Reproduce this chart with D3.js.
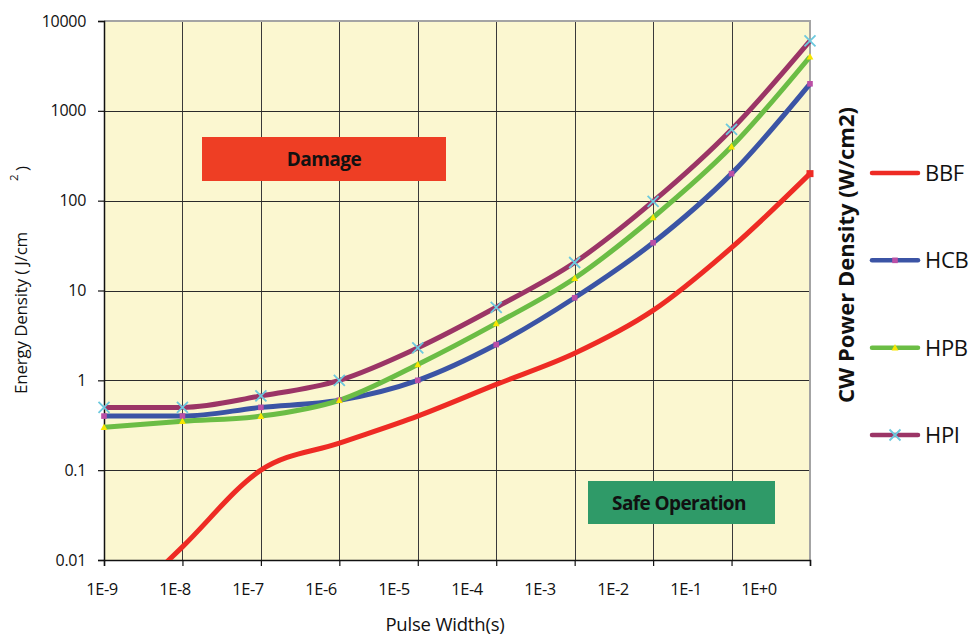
<!DOCTYPE html>
<html>
<head>
<meta charset="utf-8">
<script src="https://cdn.jsdelivr.net/npm/d3@7"></script>
<style>
  html, body { margin: 0; padding: 0; background: #ffffff; }
  svg { display: block; }
  text { font-family: "Open Sans", "Liberation Sans", sans-serif; fill: #111; }
</style>
</head>
<body>
<svg id="chart" width="978" height="638"></svg>
<script>
// ---------- data ----------
const pulseWidths = [1e-9, 1e-8, 1e-7, 1e-6, 1e-5, 1e-4, 1e-3, 1e-2, 1e-1, 1e0];
const xTickLabels = ["1E-9", "1E-8", "1E-7", "1E-6", "1E-5", "1E-4", "1E-3", "1E-2", "1E-1", "1E+0"];
const yTickValues = [0.01, 0.1, 1, 10, 100, 1000, 10000];
const yTickLabels = ["0.01", "0.1", "1", "10", "100", "1000", "10000"];

const seriesNames = ["BBF", "HCB", "HPB", "HPI"];
const bbfValues = [0.002, 0.014, 0.1, 0.2, 0.4, 0.9, 2, 6, 30, 200];
const hcbValues = [0.4, 0.4, 0.5, 0.6, 1.0, 2.5, 8.3, 34, 200, 2000];
const hpbValues = [0.3, 0.35, 0.4, 0.6, 1.5, 4.3, 13.7, 65, 400, 4000];
const hpiValues = [0.5, 0.5, 0.67, 1.0, 2.3, 6.5, 20.5, 98, 620, 6000];

const regionLabels = ["Damage", "Safe Operation"];

// ---------- styles ----------
const styles = {
  BBF: { color: "#ee2b24", marker: "none" },
  HCB: { color: "#3b54a5", marker: "square", mcolor: "#bb4fa6" },
  HPB: { color: "#6bbd45", marker: "triangle", mcolor: "#f7e600" },
  HPI: { color: "#9b3566", marker: "x", mcolor: "#6cc9de" }
};
const seriesValues = { BBF: bbfValues, HCB: hcbValues, HPB: hpbValues, HPI: hpiValues };

const svg = d3.select("#chart");
const plot = { left: 104, right: 810, top: 21, bottom: 560 };

const x = d3.scaleLog().domain([1e-9, 1e0]).range([plot.left, plot.right]);
const y = d3.scaleLog().domain([0.01, 10000]).range([plot.bottom, plot.top]);
// labels in the reference are spaced independently of the ticks
const xLabelPos = d3.scalePoint().domain(xTickLabels).range([102, 759]);

// plot background
svg.append("rect")
  .attr("x", plot.left).attr("y", plot.top)
  .attr("width", plot.right - plot.left).attr("height", plot.bottom - plot.top)
  .attr("fill", "#fbf7d0");

// gridlines
svg.append("g").selectAll("line.v").data(pulseWidths.slice(1, -1)).join("line")
  .attr("x1", d => Math.round(x(d)) + 0.5).attr("x2", d => Math.round(x(d)) + 0.5)
  .attr("y1", plot.top).attr("y2", plot.bottom)
  .attr("stroke", "#3a3a3a").attr("stroke-width", 1);
svg.append("g").selectAll("line.h").data(yTickValues.slice(1, -1)).join("line")
  .attr("y1", d => Math.round(y(d)) + 0.5).attr("y2", d => Math.round(y(d)) + 0.5)
  .attr("x1", plot.left).attr("x2", plot.right)
  .attr("stroke", "#2a2a2a").attr("stroke-width", 1);

// frame (top/right gray)
svg.append("path")
  .attr("d", `M${plot.left},${plot.top}H${plot.right}V${plot.bottom}`)
  .attr("fill", "none").attr("stroke", "#a4a4a4").attr("stroke-width", 2);

// y axis
const yAxis = d3.axisLeft(y).tickValues(yTickValues)
  .tickFormat((d, i) => yTickLabels[i]).tickSize(6).tickPadding(12);
const gy = svg.append("g").attr("transform", `translate(${plot.left},0)`).call(yAxis);
gy.select(".domain").attr("stroke", "#111").attr("stroke-width", 1.5);
gy.selectAll(".tick line").attr("stroke", "#111").attr("stroke-width", 1.2);
gy.selectAll(".tick text").style("font-size", "16px").attr("fill", "#111")
  .style("font-family", "'Open Sans', sans-serif").attr("letter-spacing", "-0.3px");

// x axis (ticks at decades, labels from their own point scale)
const xAxis = d3.axisBottom(x).tickValues(pulseWidths).tickFormat("").tickSize(6);
const gx = svg.append("g").attr("transform", `translate(0,${plot.bottom})`).call(xAxis);
gx.select(".domain").attr("stroke", "#111").attr("stroke-width", 1.5);
gx.selectAll(".tick line").attr("stroke", "#111").attr("stroke-width", 1.2);
svg.append("g").selectAll("text").data(xTickLabels).join("text")
  .attr("x", d => xLabelPos(d)).attr("y", 595)
  .attr("text-anchor", "middle")
  .style("font-size", "16.5px").attr("letter-spacing", "-0.5px")
  .text(d => d);

// axis titles
svg.append("text").attr("x", 445).attr("y", 631).attr("text-anchor", "middle")
  .style("font-size", "18.5px").attr("letter-spacing", "-0.2px").text("Pulse Width(s)");

const yTitle = svg.append("g").attr("transform", "translate(27,0) rotate(-90)");
yTitle.append("text").attr("x", -394).attr("y", 0)
  .style("font-size", "17px").attr("letter-spacing", "-0.2px").text("Energy Density ( J/cm");
yTitle.append("text").attr("x", -181).attr("y", -9)
  .style("font-size", "11.5px").text("2");
yTitle.append("text").attr("x", -171).attr("y", 1)
  .style("font-size", "17px").text(")");

svg.append("text")
  .attr("transform", "translate(854,255) rotate(-90)")
  .attr("text-anchor", "middle")
  .style("font-size", "22px").style("font-weight", "bold").attr("letter-spacing", "0px")
  .text("CW Power Density (W/cm2)");

// region boxes
const boxes = [
  { label: regionLabels[0], fill: "#ee3e24", x0: 202, y0: 137, x1: 446, y1: 181 },
  { label: regionLabels[1], fill: "#2f9a68", x0: 588, y0: 481, x1: 775, y1: 524 }
];
const gBox = svg.append("g");
boxes.forEach(b => {
  gBox.append("rect").attr("x", b.x0).attr("y", b.y0)
    .attr("width", b.x1 - b.x0).attr("height", b.y1 - b.y0).attr("fill", b.fill);
});
gBox.append("text").attr("x", 324).attr("y", 166).attr("text-anchor", "middle")
  .style("font-size", "19px").style("font-weight", "bold").attr("letter-spacing", "-0.5px")
  .text(regionLabels[0]);
gBox.append("text").attr("x", 679).attr("y", 510).attr("text-anchor", "middle")
  .style("font-size", "19px").style("font-weight", "bold").attr("letter-spacing", "-0.6px")
  .text(regionLabels[1]);

// clip
svg.append("clipPath").attr("id", "clip").append("rect")
  .attr("x", plot.left).attr("y", plot.top)
  .attr("width", plot.right - plot.left + 4).attr("height", plot.bottom - plot.top);

const line = d3.line()
  .x(d => x(d[0])).y(d => y(d[1]))
  .curve(d3.curveMonotoneX);

const gLines = svg.append("g").attr("clip-path", "url(#clip)");
const gMarks = svg.append("g");

function drawMarker(g, type, cx, cy, color) {
  if (type === "square") {
    g.append("rect").attr("x", cx - 2.8).attr("y", cy - 2.8).attr("width", 5.6).attr("height", 5.6)
      .attr("fill", color);
  } else if (type === "triangle") {
    g.append("path").attr("d", `M${cx},${cy - 3.6}L${cx + 3.4},${cy + 2.8}L${cx - 3.4},${cy + 2.8}Z`)
      .attr("fill", color);
  } else if (type === "x") {
    const r = 5.5;
    g.append("path").attr("d", `M${cx - r},${cy - r}L${cx + r},${cy + r}M${cx - r},${cy + r}L${cx + r},${cy - r}`)
      .attr("stroke", color).attr("stroke-width", 1.8).attr("fill", "none");
  }
}

seriesNames.forEach(name => {
  const st = styles[name];
  const pts = pulseWidths.map((p, i) => [p, seriesValues[name][i]]);
  gLines.append("path").datum(pts).attr("d", line)
    .attr("fill", "none").attr("stroke", st.color).attr("stroke-width", 5)
    .attr("stroke-linejoin", "round");
  if (st.marker !== "none") {
    const gm = gMarks.append("g");
    pts.forEach(p => drawMarker(gm, st.marker, x(p[0]), y(p[1]), st.mcolor));
  } else {
    const last = pts[pts.length - 1];
    gMarks.append("rect").attr("x", x(last[0]) - 3.5).attr("y", y(last[1]) - 3.5)
      .attr("width", 7).attr("height", 7).attr("fill", st.color);
  }
});

// legend
const legendY = d3.scalePoint().domain(seriesNames).range([173, 435]);
const gLeg = svg.append("g");
seriesNames.forEach(name => {
  const st = styles[name];
  const ly = legendY(name);
  gLeg.append("line").attr("x1", 872).attr("x2", 918).attr("y1", ly).attr("y2", ly)
    .attr("stroke", st.color).attr("stroke-width", 4.5).attr("stroke-linecap", "round");
  if (st.marker !== "none") drawMarker(gLeg, st.marker, 895, ly, st.mcolor);
  gLeg.append("text").attr("x", 925).attr("y", ly + 8)
    .style("font-size", "22px").attr("letter-spacing", "-0.3px").text(name);
});
</script>
</body>
</html>
